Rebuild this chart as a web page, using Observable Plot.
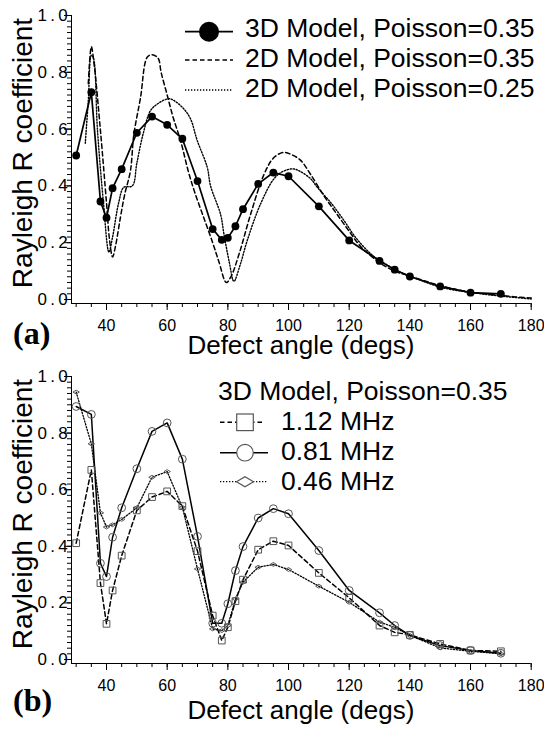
<!DOCTYPE html>
<html>
<head>
<meta charset="utf-8">
<script src="https://cdn.jsdelivr.net/npm/d3@7"></script>
<script src="https://cdn.jsdelivr.net/npm/@observablehq/plot@0.6"></script>
<style>
  body { margin: 0; background: #fff; }
  #chart { width: 544px; height: 729px; }
  #chart svg { display: block; }
</style>
</head>
<body>
<div id="chart"></div>
<script>
// ---------------- DATA ----------------
// Panel (a)
const angleA3D = [30,35,38,40,42,45,50,55,60,65,70,75,78,80,82.5,85,90,95,100,110,120,130,135,140,150,160,170];
const rA3D     = [0.507,0.73,0.345,0.288,0.392,0.459,0.587,0.644,0.615,0.566,0.417,0.248,0.21,0.217,0.258,0.318,0.407,0.447,0.434,0.328,0.208,0.136,0.105,0.081,0.046,0.024,0.02];

const angleA2D35 = [34,35,36,38,40,41,42,43,44.6,46,47.9,49,51.2,53.4,55,57,58,60,62,64.4,67,69,72,75,77,79.5,81,83.7,87.5,91.9,95.2,98.5,101,104,107.3,112,116,120,124,130,135,139.2,145,150,155,160,170,180];
const rA2D35     = [0.76,0.89,0.82,0.595,0.34,0.21,0.15,0.19,0.29,0.37,0.454,0.58,0.71,0.853,0.862,0.85,0.8,0.72,0.64,0.56,0.45,0.38,0.29,0.2,0.135,0.06,0.08,0.16,0.3,0.44,0.5,0.518,0.51,0.49,0.44,0.36,0.3,0.24,0.184,0.13,0.1,0.085,0.065,0.049,0.036,0.026,0.014,0.005];

const angleA2D25 = [33,34,35,35.7,37,39,40.8,42,44,45.7,48.5,50,52,54.5,57,60.6,63,65.5,67.7,69.9,73.2,74.3,77.6,78.7,80.5,82,84,86.4,90.8,95.2,98,101.5,104,107.3,109.5,114,118.3,122,127.1,132,137,143,150.2,160,170,180];
const rA2D25     = [0.55,0.7,0.86,0.85,0.6,0.34,0.167,0.22,0.34,0.395,0.4,0.48,0.58,0.665,0.69,0.707,0.695,0.671,0.636,0.56,0.466,0.4,0.3,0.231,0.13,0.064,0.12,0.208,0.337,0.425,0.45,0.46,0.45,0.425,0.395,0.34,0.278,0.22,0.161,0.125,0.096,0.07,0.043,0.025,0.012,0.002];

// Panel (b)
const angleB = [30,35,38,40,42,45,50,55,60,65,70,75,78,80,82.5,85,90,95,100,110,120,130,135,140,150,160,170];
const rB112  = [0.411,0.67,0.27,0.126,0.244,0.367,0.527,0.574,0.594,0.542,0.383,0.155,0.067,0.114,0.206,0.282,0.388,0.418,0.403,0.306,0.218,0.12,0.096,0.087,0.055,0.032,0.029];
const rB081  = [0.894,0.866,0.34,0.293,0.432,0.536,0.674,0.806,0.836,0.708,0.435,0.128,0.128,0.197,0.314,0.399,0.5,0.533,0.515,0.385,0.244,0.165,0.12,0.085,0.049,0.032,0.022];
const rB046  = [0.945,0.762,0.518,0.468,0.476,0.495,0.536,0.644,0.664,0.538,0.32,0.108,0.102,0.12,0.214,0.273,0.326,0.336,0.318,0.259,0.202,0.132,0.114,0.085,0.041,0.029,0.02];

// Legend labels & axis text
const legendA = ["3D Model, Poisson=0.35", "2D Model, Poisson=0.35", "2D Model, Poisson=0.25"];
const legendBTitle = "3D Model, Poisson=0.35";
const legendB = ["1.12 MHz", "0.81 MHz", "0.46 MHz"];
const xTitle = "Defect angle (degs)";
const yTitle = "Rayleigh R coefficient";
const panelLabels = ["(a)", "(b)"];

// Ticks
const xMajor = [40,60,80,100,120,140,160,180];
const xMinor = [30,35,40,45,50,55,60,65,70,75,80,85,90,95,100,105,110,115,120,125,130,135,140,145,150,155,160,165,170,175,180];
const yMajor = [0,0.2,0.4,0.6,0.8,1.0];
const yMinor = d3.range(0, 50.5, 1).map(i => i * 0.02);

// ---------------- HELPERS ----------------
const X0 = 28.46;
const FONT = "'Liberation Sans', Arial, sans-serif";
const rows = (xs, ys) => xs.map((x, i) => ({x, y: ys[i]}));

const flatDiamond = {
  draw(ctx, size) {
    const r = Math.sqrt(size / Math.PI);
    const w = r * 1.0, h = r * 0.6;
    ctx.moveTo(-w, 0); ctx.lineTo(0, -h); ctx.lineTo(w, 0); ctx.lineTo(0, h); ctx.closePath();
  }
};

function makePanel(cfg) {
  const marks = [
    Plot.ruleX([X0], {stroke: "#000", strokeWidth: 1}),
    Plot.ruleY([cfg.yMin], {stroke: "#000", strokeWidth: 1}),
    Plot.axisX({ticks: xMinor, tickSize: 4, fill: "none", label: null}),
    Plot.axisX({ticks: xMajor, tickSize: 7, fill: "none", label: null}),
    Plot.axisX({ticks: xMajor, tickSize: 0, tickPadding: 16.5, fontSize: 16, label: null, tickFormat: d => String(d)}),
    Plot.axisY({ticks: yMinor, tickSize: 4, fill: "none", label: null}),
    Plot.axisY({ticks: yMajor, tickSize: 7, fill: "none", label: null}),
    Plot.axisY({ticks: yMajor, tickSize: 0, tickPadding: 0.5, fontSize: 17, label: null, tickFormat: d => d.toFixed(1)}),
    ...cfg.marks
  ];
  const svg = Plot.plot({
    width: 544,
    height: cfg.height,
    marginLeft: 71,
    marginRight: 13.3,
    marginTop: 15,
    marginBottom: cfg.marginBottom,
    x: {domain: [X0, 180]},
    y: {domain: [cfg.yMin, 1]},
    style: {fontFamily: FONT, fontSize: "16px", background: "#fff", color: "#000", overflow: "visible"},
    marks
  });
  const s = d3.select(svg);
  s.selectAll('g[aria-label="y-axis tick label"] text').attr("letter-spacing", 3.3);
  // axis titles & panel label
  s.append("text").attr("x", (71 + 530.7) / 2).attr("y", cfg.xTitleY)
    .attr("text-anchor", "middle").attr("font-family", FONT).attr("font-size", 26).text(xTitle);
  s.append("text").attr("transform", `translate(31.5,153) rotate(-90)`)
    .attr("text-anchor", "middle").attr("font-family", FONT).attr("font-size", 28).text(yTitle);
  s.append("text").attr("x", 13).attr("y", cfg.labelY).attr("text-anchor", "start")
    .attr("font-family", "'Liberation Serif', 'Times New Roman', serif").attr("font-weight", "bold")
    .attr("font-size", 32).text(cfg.label);
  return svg;
}

const DASH = "4.5,3";
const DOT = "1.3,1.7";

// ---------------- PANEL A ----------------
const svgA = makePanel({
  height: 361, marginBottom: 58, yMin: -4 / 284, xTitleY: 354, labelY: 344, label: panelLabels[0],
  marks: [
    Plot.line(rows(angleA2D35, rA2D35), {x: "x", y: "y", stroke: "#000", strokeWidth: 1.5, strokeDasharray: DASH, curve: "catmull-rom"}),
    Plot.line(rows(angleA2D25, rA2D25), {x: "x", y: "y", stroke: "#000", strokeWidth: 1.4, strokeDasharray: DOT, curve: "catmull-rom"}),
    Plot.line(rows(angleA3D, rA3D), {x: "x", y: "y", stroke: "#000", strokeWidth: 1.7}),
    Plot.dot(rows(angleA3D, rA3D), {x: "x", y: "y", r: 3.9, fill: "#000", stroke: "none"})
  ]
});
{
  const s = d3.select(svgA);
  const g = s.append("g").attr("font-family", FONT).attr("font-size", 26.5).attr("text-anchor", "start");
  const sy = [31.7, 60, 90], ty = [36.7, 66.7, 96.5];
  const styles = [{w: 1.7, d: null}, {w: 1.5, d: DASH}, {w: 1.4, d: DOT}];
  legendA.forEach((t, i) => {
    const ln = g.append("line").attr("x1", 185).attr("x2", 233).attr("y1", sy[i]).attr("y2", sy[i])
      .attr("stroke", "#000").attr("stroke-width", styles[i].w);
    if (styles[i].d) ln.attr("stroke-dasharray", styles[i].d);
    g.append("text").attr("x", 245).attr("y", ty[i]).attr("text-anchor", "start").text(t);
  });
  g.append("circle").attr("cx", 209).attr("cy", sy[0]).attr("r", 10).attr("fill", "#000");
}

// ---------------- PANEL B ----------------
const MK = "#555";
const svgB = makePanel({
  height: 368, marginBottom: 66, yMin: -4 / 283, xTitleY: 357.5, labelY: 349.7, label: panelLabels[1],
  marks: [
    Plot.line(rows(angleB, rB046), {x: "x", y: "y", stroke: "#000", strokeWidth: 1.3, strokeDasharray: DOT}),
    Plot.line(rows(angleB, rB112), {x: "x", y: "y", stroke: "#000", strokeWidth: 1.5, strokeDasharray: DASH}),
    Plot.line(rows(angleB, rB081), {x: "x", y: "y", stroke: "#000", strokeWidth: 1.5}),
    Plot.dot(rows(angleB, rB046), {x: "x", y: "y", r: 3.2, symbol: flatDiamond, fill: "none", stroke: MK, strokeWidth: 1}),
    Plot.dot(rows(angleB, rB112), {x: "x", y: "y", r: 3.8, symbol: "square", fill: "none", stroke: MK, strokeWidth: 1}),
    Plot.dot(rows(angleB, rB081), {x: "x", y: "y", r: 3.9, symbol: "circle", fill: "none", stroke: MK, strokeWidth: 1})
  ]
});
{
  const s = d3.select(svgB);
  const g = s.append("g").attr("font-family", FONT).attr("font-size", 26.5).attr("text-anchor", "start");
  g.append("text").attr("x", 218).attr("y", 39).attr("text-anchor", "start").text(legendBTitle);
  const sy = [61.3, 91.7, 120.7], ty = [69, 99, 129];
  const lines = [{x2: 262, w: 1.5, d: DASH}, {x2: 268, w: 1.5, d: null}, {x2: 267, w: 1.3, d: DOT}];
  legendB.forEach((t, i) => {
    const ln = g.append("line").attr("x1", 220).attr("x2", lines[i].x2).attr("y1", sy[i]).attr("y2", sy[i])
      .attr("stroke", "#000").attr("stroke-width", lines[i].w);
    if (lines[i].d) ln.attr("stroke-dasharray", lines[i].d);
    g.append("text").attr("x", 281).attr("y", ty[i]).attr("text-anchor", "start").text(t);
  });
  g.append("rect").attr("x", 245 - 8.3).attr("y", sy[0] - 8.3).attr("width", 16.6).attr("height", 16.6)
    .attr("fill", "#fff").attr("stroke", MK).attr("stroke-width", 1.2);
  g.append("circle").attr("cx", 245).attr("cy", sy[1]).attr("r", 8.3)
    .attr("fill", "#fff").attr("stroke", MK).attr("stroke-width", 1.2);
  g.append("path").attr("d", `M${245 - 8.5},${sy[2]} L245,${sy[2] - 5} L${245 + 8.5},${sy[2]} L245,${sy[2] + 5} Z`)
    .attr("fill", "#fff").attr("stroke", MK).attr("stroke-width", 1.2);
}

const chart = document.getElementById("chart");
chart.appendChild(svgA);
chart.appendChild(svgB);
</script>
</body>
</html>
